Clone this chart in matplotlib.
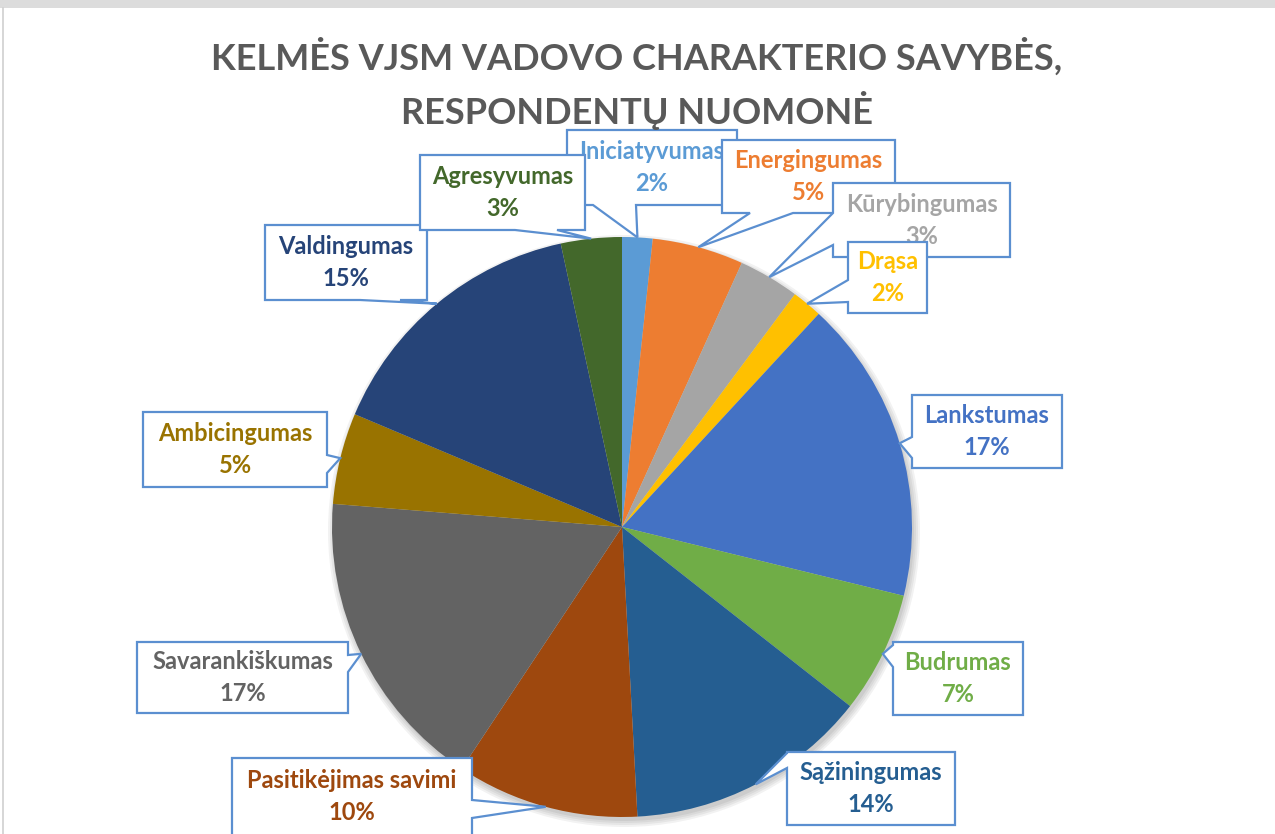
import numpy as np
import matplotlib.pyplot as plt
from matplotlib.patches import Polygon, Rectangle, Circle

plt.rcParams['font.family'] = ['Lato', 'DejaVu Sans']

# duomenys (respondentu skaicius)
names = ['Iniciatyvumas', 'Energingumas', 'Kūrybingumas', 'Drąsa', 'Lankstumas',
         'Budrumas', 'Sąžiningumas', 'Pasitikėjimas savimi', 'Savarankiškumas',
         'Ambicingumas', 'Valdingumas', 'Agresyvumas']
counts = [1, 3, 2, 1, 10, 4, 8, 6, 10, 3, 9, 2]
colors = ['#5B9BD5', '#ED7D31', '#A5A5A5', '#FFC000', '#4472C4', '#70AD47',
          '#255E91', '#9E480E', '#636363', '#997300', '#264478', '#43682B']
title = 'KELMĖS VJSM VADOVO CHARAKTERIO SAVYBĖS,\nRESPONDENTŲ NUOMONĖ'

# etikeciu deziu isdestymas pikseliais: x0, y0, x1, y1, puse, pagrindo a, b
boxes = [
    (567, 130, 737, 205, 'bottom', 593, 636),
    (722, 140, 895, 213, 'bottom', 750, 793),
    (833, 183, 1010, 257, 'left', 213, 245),
    (848, 242, 927, 313, 'left', 280, 302),
    (912, 395, 1062, 468, 'left', 437, 458),
    (893, 642, 1023, 715, 'left', 645, 667),
    (787, 752, 955, 825, 'left', 753, 768),
    (232, 758, 472, 845, 'right', 800, 818),
    (137, 642, 348, 713, 'right', 655, 672),
    (143, 412, 327, 487, 'right', 455, 473),
    (265, 225, 427, 300, 'bottom', 360, 400),
    (420, 155, 585, 230, 'bottom', 515, 557),
]

W, H = 1275, 834
cx, cy, R = 622, 527, 290

fig = plt.figure(figsize=(12.75, 8.34), dpi=100)
ax = fig.add_axes([0, 0, 1, 1])


def P(x, y):
    return (x, H - y)


# seselis
for i, a in enumerate([0.05, 0.05, 0.05, 0.06]):
    ax.add_patch(Circle(P(cx + 2, cy + 4), R + 6 - i * 2, color='black', alpha=a, lw=0, zorder=1))

wedges, _ = ax.pie(counts, colors=colors, startangle=90, counterclock=False,
                   center=P(cx, cy), radius=R, wedgeprops=dict(linewidth=0, zorder=2))

total = sum(counts)
cum = np.cumsum([0] + counts)
for i, name in enumerate(names):
    mid = (cum[i] + counts[i] / 2) / total * 2 * np.pi
    tx, ty = cx + R * np.sin(mid), cy - R * np.cos(mid)
    x0, y0, x1, y1, side, a, b = boxes[i]
    if side == 'bottom':
        pts = [(x0, y0), (x1, y0), (x1, y1), (b, y1), (tx, ty), (a, y1), (x0, y1)]
    elif side == 'left':
        pts = [(x0, y0), (x1, y0), (x1, y1), (x0, y1), (x0, b), (tx, ty), (x0, a)]
    else:
        pts = [(x0, y0), (x1, y0), (x1, a), (tx, ty), (x1, b), (x1, y1), (x0, y1)]
    ax.add_patch(Polygon([P(*p) for p in pts], closed=True, facecolor='white',
                         edgecolor='#5B8FD0', lw=1.6, zorder=3 + 2 * i))
    pct = round(counts[i] / total * 100)
    ym = (y0 + min(y1, 825)) / 2 if i != 7 else 796
    ax.text(*P((x0 + x1) / 2, ym - 16), name, color=colors[i], fontsize=17,
            fontweight='bold', ha='center', va='center', zorder=4 + 2 * i)
    ax.text(*P((x0 + x1) / 2, ym + 16), f'{pct}%', color=colors[i], fontsize=17,
            fontweight='bold', ha='center', va='center', zorder=4 + 2 * i)

ax.text(*P(637, 84), title, ha='center', va='center', fontsize=26, fontweight='bold',
        color='#595959', linespacing=1.45)

# remelis
ax.add_patch(Rectangle((0, H - 8), W, 8, color='#DCDCDC', lw=0, zorder=50))
ax.plot([3, 3], [0, H - 8], color='#D0D0D0', lw=1.2, zorder=50)

ax.set_xlim(0, W)
ax.set_ylim(0, H)
ax.set_aspect('equal')
ax.axis('off')
fig.savefig('out.png', dpi=100)
